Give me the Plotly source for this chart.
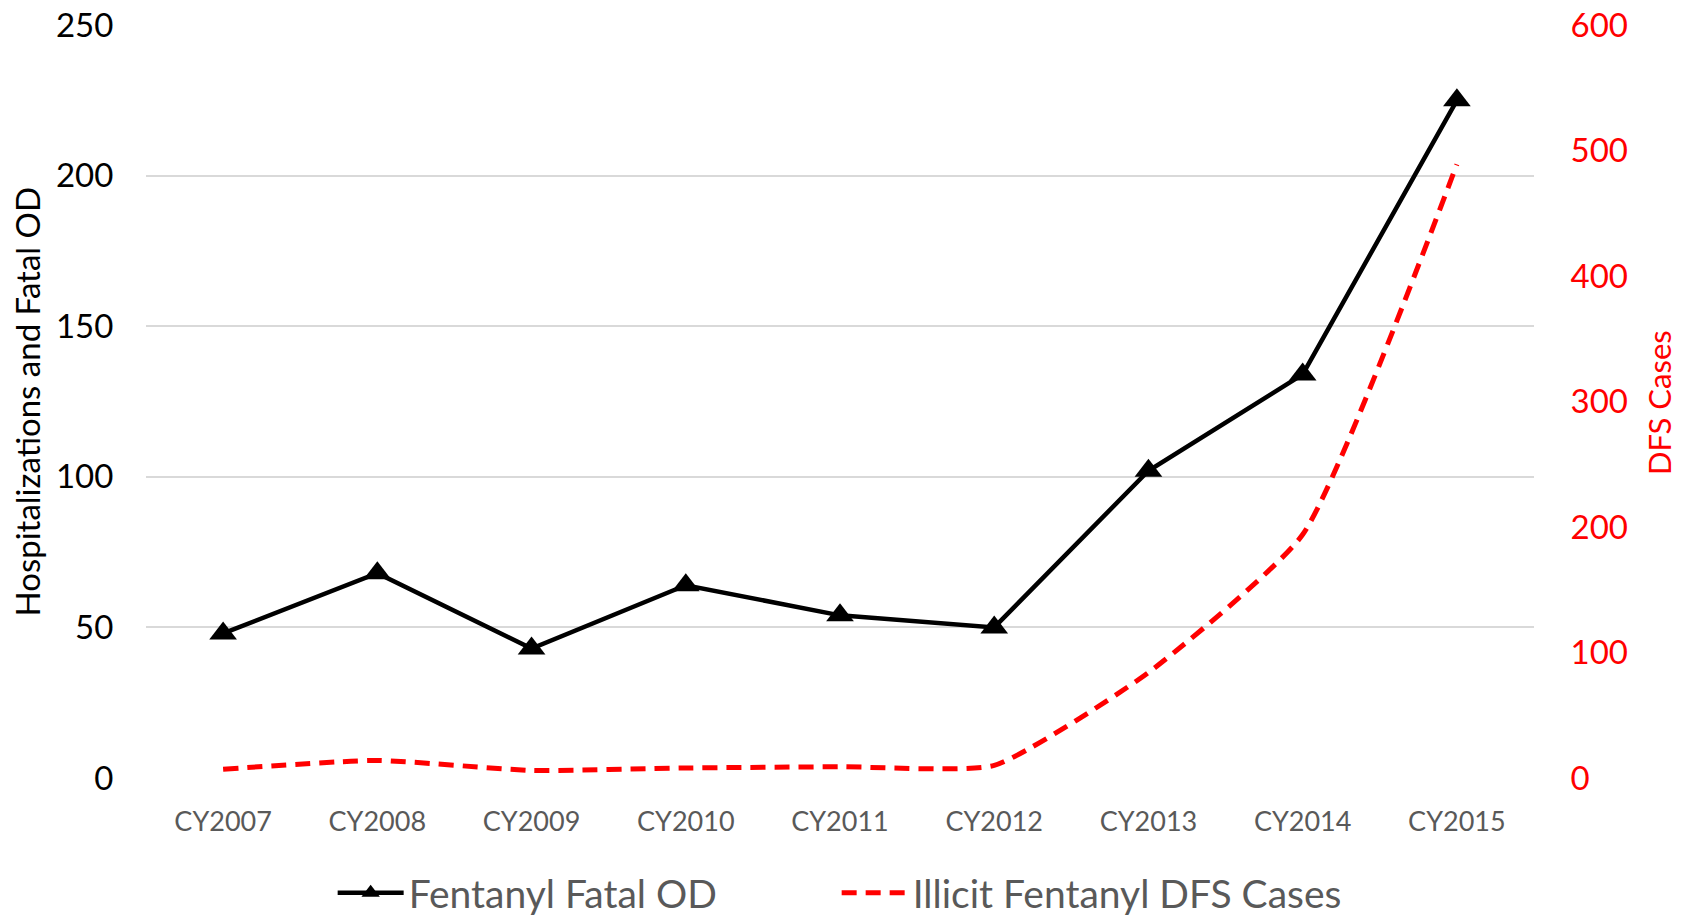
import plotly.graph_objects as go

years = ["CY2007", "CY2008", "CY2009", "CY2010", "CY2011", "CY2012", "CY2013", "CY2014", "CY2015"]
fatal_od = [48, 68, 43, 64, 54, 50, 102, 134, 225]
dfs_cases = [7, 14, 6, 8, 9, 10, 84, 194, 489]

left_ticks = [0, 50, 100, 150, 200, 250]
right_ticks = [0, 100, 200, 300, 400, 500, 600]

FONT = "Lato, 'Open Sans', sans-serif"
GRAY = "#595959"
W, H = 1688, 917
ML, MR, MT, MB = 146, 154, 25, 139

fig = go.Figure()
fig.add_trace(go.Scatter(
    x=years, y=fatal_od, name="Fentanyl Fatal OD", mode="lines+markers",
    line=dict(color="black", width=4.5),
    marker=dict(symbol="triangle-up", size=24, color="black"),
    yaxis="y",
))
fig.add_trace(go.Scatter(
    x=years, y=dfs_cases, name="Illicit Fentanyl DFS Cases", mode="lines",
    line=dict(color="#ff0000", width=5, dash="15px,9px", shape="spline", smoothing=0.5),
    yaxis="y2",
))

fig.update_layout(
    width=W, height=H,
    paper_bgcolor="white", plot_bgcolor="white",
    margin=dict(l=ML, r=MR, t=MT, b=MB, autoexpand=False),
    font=dict(family=FONT, color=GRAY),
    showlegend=True,
    legend=dict(
        orientation="h", x=227 / W, xanchor="left",
        yref="container", y=1 - 893 / H, yanchor="middle",
        font=dict(size=39, color=GRAY, family=FONT),
        itemwidth=66, entrywidthmode="pixels", entrywidth=423,
    ),
    xaxis=dict(
        range=[-0.5, 8.5], showgrid=False, zeroline=False, showline=False,
        tickfont=dict(size=27, color=GRAY, family=FONT),
        ticks="outside", ticklen=20, tickcolor="white", automargin=False,
    ),
    yaxis=dict(
        range=[0, 250], tickvals=left_ticks, showgrid=True, gridcolor="#d9d9d9", gridwidth=1.5,
        zeroline=False, showline=False,
        tickfont=dict(size=33, color="black", family=FONT),
        ticks="outside", ticklen=25, tickcolor="white", automargin=False,
    ),
    yaxis2=dict(
        range=[0, 600], tickvals=right_ticks, overlaying="y", side="right", showgrid=False,
        zeroline=False, showline=False,
        tickfont=dict(size=33, color="#ff0000", family=FONT),
        ticks="outside", ticklen=29, tickcolor="white", automargin=False,
    ),
    annotations=[
        dict(text="Hospitalizations and Fatal OD", xref="paper", yref="paper",
             x=-(ML - 26) / (W - ML - MR), y=0.5, xanchor="center", yanchor="middle",
             textangle=-90, showarrow=False, font=dict(size=33, color="black", family=FONT)),
        dict(text="DFS Cases", xref="paper", yref="paper",
             x=1 + (1659 - (W - MR)) / (W - ML - MR), y=(917 - 403 - MB) / (H - MT - MB),
             xanchor="center", yanchor="middle",
             textangle=-90, showarrow=False, font=dict(size=31, color="#ff0000", family=FONT)),
    ],
)

fig.write_html(
    "out.html",
    config={"displayModeBar": False},
    post_script="document.body.style.margin='0';document.body.style.overflow='hidden';",
)
